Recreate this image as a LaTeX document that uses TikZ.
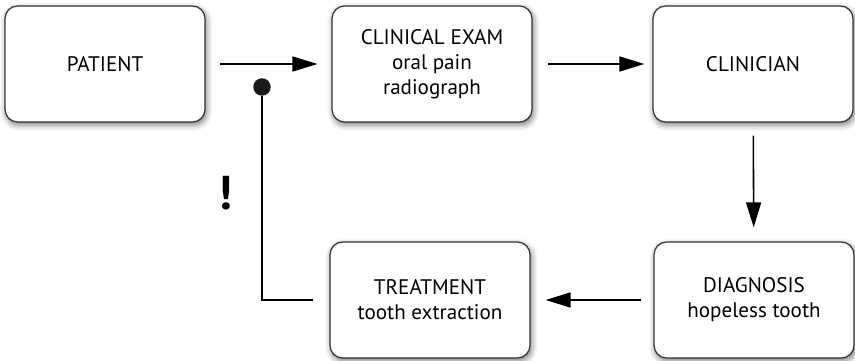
\documentclass[tikz,border=0pt]{standalone}
\usepackage{fontspec}
\setmainfont{PT Sans}
\usetikzlibrary{arrows.meta,shadows.blur}

\begin{document}
\begin{tikzpicture}[x=0.02cm, y=-0.02cm, >={Triangle[length=0.5cm,width=0.3cm]},
    font=\fontsize{12}{14.2}\selectfont,
    stage/.style={draw=black!80, line width=0.7pt, fill=white, rounded corners=0.25cm,
        minimum width=4cm, minimum height=2.32cm, align=center,
        blur shadow={shadow xshift=0.8pt, shadow yshift=-1.6pt, shadow blur radius=3.5pt, shadow opacity=55}},
    flow/.style={line width=0.9pt, ->}]

    \useasboundingbox (0,0) rectangle (855,361);

    %%% Top row
    \node (patient)   [stage] at (105,64) {PATIENT};
    \node (exam)      [stage] at (432,64) {CLINICAL EXAM\\oral pain\\radiograph};
    \node (clinician) [stage] at (753,64) {CLINICIAN};

    %%% Bottom row
    \node (diagnosis) [stage] at (754,300) {DIAGNOSIS\\hopeless tooth};
    \node (treatment) [stage] at (430,300) {TREATMENT\\tooth extraction};

    % Junction dot and warning mark
    \node (tap) [circle, fill=black!90, inner sep=0pt, minimum size=0.35cm] at (262,87) {};
    \node (warn) at (225,193) {\fontsize{27}{27}\selectfont\bfseries !};

    %%% Arrows
    \draw[flow, shorten <=0.28cm, shorten >=0.28cm] (patient) -- (exam);
    \draw[flow, shorten <=0.30cm, shorten >=0.16cm] (exam) -- (clinician);
    \draw[flow, shorten <=0.26cm, shorten >=0.28cm] (clinician) -- (diagnosis);
    \draw[flow, shorten <=0.24cm, shorten >=0.30cm] (diagnosis) -- (treatment);

    % Feedback line back to the dot
    \draw[line width=0.9pt, shorten <=0.32cm] (treatment.west) -| (tap);

\end{tikzpicture}
\end{document}
